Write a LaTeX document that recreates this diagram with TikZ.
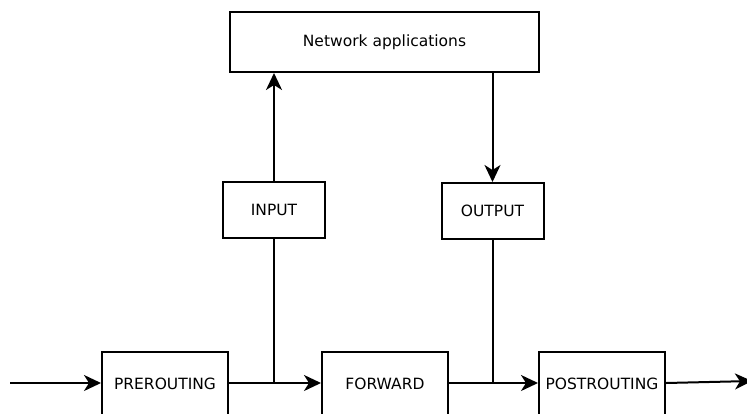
\documentclass[tikz,border=0pt]{standalone}
\usepackage{fontspec}
\setmainfont{DejaVu Sans}
\usetikzlibrary{positioning,arrows.meta}

\begin{document}
\begin{tikzpicture}[x=1pt,y=-1pt,line width=2pt,
        blk/.style={draw,rectangle,inner sep=0pt,minimum width=126pt,
                    minimum height=64pt,font=\fontsize{15.5}{18}\selectfont},
        hook/.style={blk,minimum width=102pt,minimum height=56pt},
        arr/.style={-{Stealth[length=17pt,width=16pt,inset=5pt]}}]
        \useasboundingbox (0,0) rectangle (747,413);
        \clip (0,0) rectangle (747,413);
        \node[blk,minimum width=309pt,minimum height=60pt] (apps) at (384.5,42)
          {Network applications};
        \node[hook] (inp) at (274,210) {INPUT};
        \node[hook] (outp) at (492.5,211) {OUTPUT};
        \foreach \n/\x/\lbl in {pre/165/PREROUTING,fwd/385/FORWARD,post/602/POSTROUTING}{
          \node[blk] (\n) at (\x,384) {\lbl};
        }
        \coordinate (in) at (10,383);
        \coordinate (out) at (752,381);
        \coordinate (j1) at (inp |- 0,383);
        \coordinate (j2) at (outp |- 0,383);
        \draw[arr] (in) -- (in -| pre.west);
        \draw[arr] (pre.east |- j1) -- (fwd.west |- j1);
        \draw[arr] (fwd.east |- j2) -- (post.west |- j2);
        \draw[arr] (post.east |- j2) -- (out);
        \draw (j1) -- (inp);
        \draw[arr] (inp) -- (inp |- apps.south);
        \draw[arr] (outp |- apps.south) -- (outp);
        \draw (outp) -- (j2);
      \end{tikzpicture}
\end{document}
